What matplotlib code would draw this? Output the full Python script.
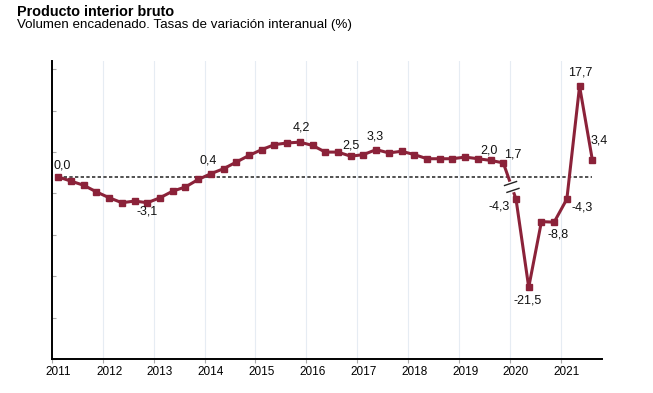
import matplotlib.pyplot as plt
import numpy as np
from matplotlib.lines import Line2D
from matplotlib.transforms import IdentityTransform

plt.rcParams['font.family'] = ['Liberation Sans', 'DejaVu Sans']

titulo = "Producto interior bruto"
subtitulo = "Volumen encadenado. Tasas de variación interanual (%)"

anios = list(range(2011, 2022))

# tasas interanuales trimestrales 2011T1 - 2019T4
tasa_a = [0.0, -0.5, -1.0, -1.8,
          -2.5, -3.1, -2.9, -3.1,
          -2.5, -1.7, -1.2, -0.3,
          0.4, 1.0, 1.8, 2.6,
          3.3, 3.9, 4.1, 4.2,
          3.8, 3.0, 3.0, 2.5,
          2.7, 3.3, 2.9, 3.1,
          2.7, 2.2, 2.2, 2.2,
          2.4, 2.2, 2.0, 1.7]
# 2020T1 - 2021T3 (tras la ruptura de escala)
tasa_b = [-4.3, -21.5, -8.7, -8.8, -4.3, 17.7, 3.4]

# trimestres con etiqueta y desplazamiento (px: derecha, abajo)
etiq = {0: (4, -12), 7: (0, 9), 12: (-3, -13), 19: (1, -15), 23: (0, -11),
        25: (-1, -13), 34: (-2, -10), 35: (9, -8), 36: (-17, 7), 37: (-1, 13),
        39: (4, 12), 40: (15, 8), 41: (1, -14), 42: (7, -19)}

rojo = '#8b2239'
W, H = 653, 393

n = len(tasa_a) + len(tasa_b)
t = anios[0] + np.arange(n) / 4 + 0.125
ta, tb = t[:len(tasa_a)], t[len(tasa_a):]

fig = plt.figure(figsize=(W / 100, H / 100), dpi=100)
ax1 = fig.add_axes([52 / W, 34 / H, 550 / W, 298 / H])
ax2 = ax1.twinx()

# escalas: cero en y=177 px, arriba 61, abajo 359
cero, top, bot = 177, 61, 359
s1, s2 = 8.3, 5.13
ax1.set_ylim(-(bot - cero) / s1, (cero - top) / s1)
ax2.set_ylim(-(bot - cero) / s2, (cero - top) / s2)
ax1.set_xlim(anios[0], anios[0] + 550 / 50.85)

for a in anios[1:]:
    ax1.axvline(a, color='#e6ecf3', lw=0.8, zorder=0)

ax1.hlines(0, t[0], t[-1], colors='#333333', lw=1.2,
           linestyles=(0, (2, 1.4)), zorder=1)

kw = dict(color=rojo, lw=2.2, marker='s', ms=5, zorder=3)
ax1.plot(ta, tasa_a, **kw)
ax2.plot(tb, tasa_b, **kw)

# tramo de union con ruptura
pa = ax1.transData.transform((ta[-1], tasa_a[-1]))
pb = ax2.transData.transform((tb[0], tasa_b[0]))
idt = IdentityTransform()
fig.add_artist(Line2D([pa[0], pb[0]], [pa[1], pb[1]], color=rojo, lw=2.2,
                      transform=idt, zorder=2))
d = pb - pa
p1, p2 = pa + 0.58 * d, pa + 0.75 * d
fig.add_artist(Line2D([p1[0], p2[0]], [p1[1], p2[1]], color='white', lw=3.4,
                      transform=idt, zorder=4))
for f in (0.57, 0.76):
    c = pa + f * d
    fig.add_artist(Line2D([c[0] - 6, c[0] + 6], [c[1] - 2, c[1] + 2],
                          color='#222222', lw=1.0, transform=idt, zorder=5))

for i, (dx, dy) in etiq.items():
    if i < len(tasa_a):
        ax, x, v = ax1, ta[i], tasa_a[i]
    else:
        ax, x, v = ax2, tb[i - len(tasa_a)], tasa_b[i - len(tasa_a)]
    ax.annotate(f"{v:.1f}".replace('.', ','), (x, v), xytext=(dx * 0.72, -dy * 0.72),
                textcoords='offset points', ha='center', va='center',
                fontsize=9, color='#111111')

for ax in (ax1, ax2):
    for s in ('top', 'right'):
        ax.spines[s].set_visible(False)
ax2.spines['left'].set_visible(False)
ax2.spines['bottom'].set_visible(False)
ax2.set_yticks([])

ax1.spines['left'].set_linewidth(1.4)
ax1.spines['bottom'].set_linewidth(1.4)

ax1.set_yticks(ax1.get_ylim()[0] + np.arange(8) * 41.4 / s1)
ax1.tick_params(axis='y', direction='in', length=3, color='#aaaaaa', labelleft=False)

ax1.set_xticks(anios)
ax1.set_xticklabels([])
ax1.set_xticks([a + 0.125 for a in anios], minor=True)
ax1.set_xticklabels([str(a) for a in anios], minor=True)
ax1.tick_params(axis='x', which='major', direction='out', length=3, color='#aaaaaa')
ax1.tick_params(axis='x', which='minor', length=0, pad=5, labelsize=8.5)

fig.text(17 / W, 1 - 16 / H, titulo, fontsize=10.4, fontweight='bold', va='baseline')
fig.text(17 / W, 1 - 28 / H, subtitulo, fontsize=9.6, va='baseline')

fig.savefig('out.png', dpi=100)
